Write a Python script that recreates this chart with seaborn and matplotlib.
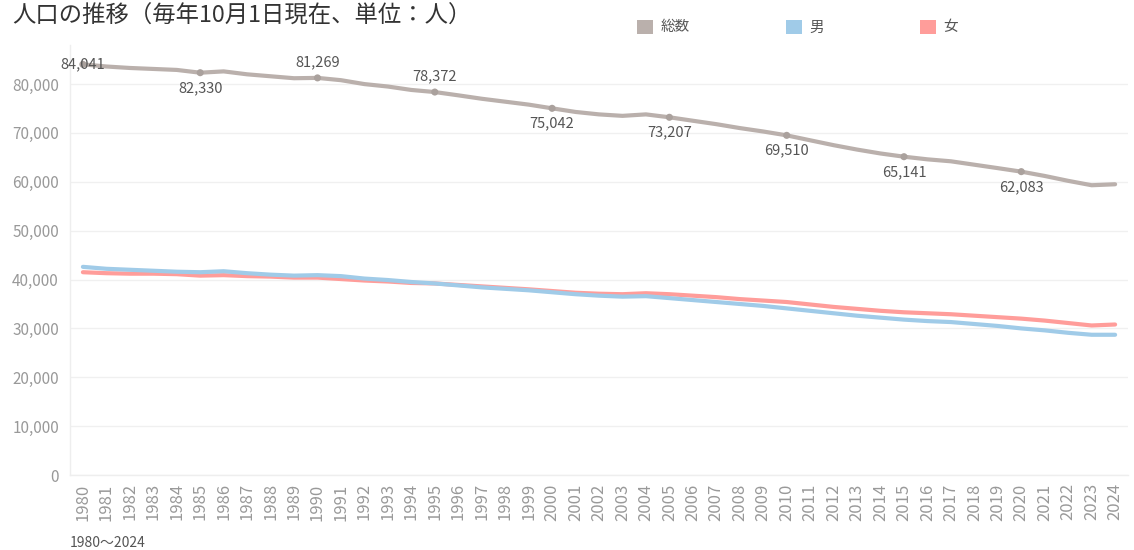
import matplotlib
matplotlib.use("Agg")
import matplotlib.pyplot as plt
from matplotlib.patches import Patch
from matplotlib.ticker import FuncFormatter, MultipleLocator
import pandas as pd
import seaborn as sns


YEARS = list(range(1980, 2025))
TOTAL = [
    84041, 83600, 83300, 83100, 82900, 82330, 82600, 82000, 81600, 81200,
    81269, 80800, 80000, 79500, 78800, 78372, 77700, 77000, 76400, 75800,
    75042, 74300, 73800, 73500, 73800, 73207, 72500, 71800, 71000, 70300,
    69510, 68500, 67500, 66600, 65800, 65141, 64600, 64200, 63500, 62800,
    62083, 61200, 60200, 59300, 59500,
]
MALE = [
    42600, 42200, 42000, 41800, 41600, 41500, 41700, 41300, 41000, 40800,
    40900, 40700, 40200, 39900, 39500, 39200, 38800, 38400, 38100, 37800,
    37400, 37000, 36700, 36500, 36600, 36200, 35800, 35400, 35000, 34600,
    34100, 33600, 33100, 32600, 32200, 31800, 31500, 31300, 30900, 30500,
    30000, 29600, 29100, 28700, 28700,
]
FEMALE = [
    41500, 41300, 41200, 41200, 41100, 40800, 40900, 40700, 40600, 40400,
    40400, 40100, 39800, 39600, 39300, 39200, 38900, 38600, 38300, 38000,
    37650, 37300, 37100, 37000, 37200, 37000, 36700, 36400, 36000, 35700,
    35400, 34900, 34400, 34000, 33600, 33300, 33100, 32900, 32600, 32300,
    32000, 31600, 31100, 30600, 30800,
]
SERIES = ["総数", "男", "女"]
LABEL_YEARS = [1980, 1985, 1990, 1995, 2000, 2005, 2010, 2015, 2020]
# 0 = on the line, 1 = above, -1 = below
LABEL_SIDE = [0, -1, 1, 1, -1, -1, -1, -1, -1]

COLORS = {"総数": "#bab0ac", "男": "#a0cbe8", "女": "#ff9d9a"}


def main() -> None:
    sns.set_theme(style="white")
    plt.rcParams["font.family"] = ["Noto Sans CJK JP", "DejaVu Sans"]
    plt.rcParams["axes.unicode_minus"] = False

    df = pd.DataFrame({
        "year": YEARS * 3,
        "value": TOTAL + MALE + FEMALE,
        "series": [SERIES[0]] * len(YEARS) + [SERIES[1]] * len(YEARS) + [SERIES[2]] * len(YEARS),
    })

    fig = plt.figure(figsize=(11.34, 5.5), dpi=100)
    ax = fig.add_axes([70 / 1134, 75 / 550, 1058 / 1134, 430 / 550])

    sns.lineplot(
        data=df, x="year", y="value", hue="series", hue_order=SERIES[::-1],
        palette=COLORS, linewidth=3.0, legend=False, ax=ax,
    )

    pts = df[(df["series"] == "総数") & (df["year"].isin(LABEL_YEARS))]
    sns.scatterplot(data=pts, x="year", y="value", color="#aaa19d", s=26,
                    edgecolor="none", legend=False, ax=ax, zorder=5)

    for (year, value), side in zip(pts[["year", "value"]].itertuples(index=False), LABEL_SIDE):
        ax.annotate(f"{value:,}", (year, value), xytext=(0, 11 * side),
                    textcoords="offset points", ha="center", va="center",
                    fontsize=10.5, color="#555555", zorder=6)

    ax.set_xlim(1979.45, 2024.55)
    ax.set_ylim(0, 88000)
    ax.yaxis.set_major_locator(MultipleLocator(10000))
    ax.yaxis.set_major_formatter(FuncFormatter(lambda v, _: f"{int(v):,}"))
    ax.set_xticks(YEARS)
    ax.set_xticklabels([str(y) for y in YEARS], rotation=90)
    ax.set_xticks([y + 0.5 for y in YEARS[:-1]], minor=True)
    ax.grid(axis="y", color="#f0f0f0", linewidth=1)
    ax.set_xlabel("")
    ax.set_ylabel("")

    ax.tick_params(axis="y", length=0, labelsize=11, labelcolor="#999999", pad=8)
    ax.tick_params(axis="x", which="major", length=0, labelsize=12, labelcolor="#999999", pad=6)
    ax.tick_params(axis="x", which="minor", length=5, color="#eeeeee", width=1)
    for side in ["top", "right"]:
        ax.spines[side].set_visible(False)
    for side in ["left", "bottom"]:
        ax.spines[side].set_color("#eeeeee")
        ax.spines[side].set_linewidth(1)
    ax.get_yticklabels()[0].set_va("bottom")

    fig.text(12 / 1134, 1 - 16 / 550, "人口の推移（毎年10月1日現在、単位：人）",
             fontsize=16.8, color="#333333", va="center", ha="left")
    fig.text(70 / 1134, 1 - 543 / 550, "1980～2024", fontsize=10,
             color="#555555", va="center", ha="left")

    handles = [Patch(facecolor=COLORS[s], edgecolor="none") for s in SERIES]
    fig.legend(handles, SERIES, ncol=3, loc="center left",
               bbox_to_anchor=(624 / 1134, 1 - 27 / 550), frameon=False,
               fontsize=10.5, labelcolor="#555555", handlelength=1.1,
               handleheight=1.1, handletextpad=0.5, columnspacing=6.6)

    fig.savefig("out.png", dpi=100)
    plt.close(fig)


if __name__ == "__main__":
    main()
